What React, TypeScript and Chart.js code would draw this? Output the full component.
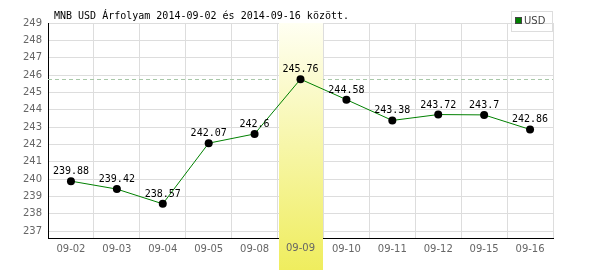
import React, { useEffect, useRef } from "react";
import { Chart, registerables } from "chart.js";

Chart.register(...registerables);

const categories = ["09-02", "09-03", "09-04", "09-05", "09-08", "09-09", "09-10", "09-11", "09-12", "09-15", "09-16"];
const usdValues = [239.88, 239.42, 238.57, 242.07, 242.6, 245.76, 244.58, 243.38, 243.72, 243.7, 242.86];
const yTicks = [237, 238, 239, 240, 241, 242, 243, 244, 245, 246, 247, 248, 249];
const highlightIndex = 5;
const titleText = "MNB USD Árfolyam 2014-09-02 és 2014-09-16 között.";
const legendLabel = "USD";

const MONO = '"DejaVu Sans Mono", monospace';
const SANS = '"DejaVu Sans", sans-serif';

const overlayPlugin = {
  id: "overlay",
  beforeDatasetsDraw(chart: any) {
    const { ctx, chartArea, scales } = chart;
    const x = scales.x;
    const y = scales.y;
    // dashed max line
    const maxV = Math.max(...usdValues);
    const ym = Math.round(y.getPixelForValue(maxV)) + 0.5;
    ctx.save();
    ctx.strokeStyle = "#a8c8a8";
    ctx.lineWidth = 1;
    ctx.setLineDash([4, 3]);
    ctx.beginPath();
    ctx.moveTo(chartArea.left, ym);
    ctx.lineTo(chartArea.right, ym);
    ctx.stroke();
    ctx.restore();
    // highlight band
    const cx = x.getPixelForValue(highlightIndex);
    const half = (x.getPixelForValue(1) - x.getPixelForValue(0)) / 2;
    const x0 = Math.round(cx - half) + 1;
    const x1 = Math.round(cx + half);
    const h = chart.height;
    const g = ctx.createLinearGradient(0, chartArea.top, 0, h);
    g.addColorStop(0, "#fffff2");
    g.addColorStop(1, "#efed5e");
    ctx.save();
    ctx.fillStyle = g;
    ctx.fillRect(x0, chartArea.top, x1 - x0, h - chartArea.top);
    ctx.fillStyle = "#666";
    ctx.font = "10px " + SANS;
    ctx.textAlign = "center";
    ctx.textBaseline = "top";
    ctx.fillText(categories[highlightIndex], cx, chartArea.bottom + 5);
    ctx.restore();
  },
  afterDatasetsDraw(chart: any) {
    const { ctx } = chart;
    const meta = chart.getDatasetMeta(0);
    ctx.save();
    ctx.fillStyle = "#000";
    ctx.font = "10px " + MONO;
    ctx.textAlign = "center";
    ctx.textBaseline = "alphabetic";
    meta.data.forEach((pt: any, i: number) => {
      ctx.fillText(String(usdValues[i]), pt.x, pt.y - 7);
    });
    ctx.restore();
  },
  afterDraw(chart: any) {
    const { ctx } = chart;
    ctx.save();
    // title
    ctx.fillStyle = "#000";
    ctx.font = "10px " + MONO;
    ctx.textAlign = "left";
    ctx.textBaseline = "alphabetic";
    ctx.fillText(titleText, 54, 19);
    // legend
    ctx.strokeStyle = "#dddddd";
    ctx.lineWidth = 1;
    ctx.strokeRect(511.5, 11.5, 41, 20);
    ctx.fillStyle = "#444";
    ctx.fillRect(515, 17, 7, 7);
    ctx.fillStyle = "#008000";
    ctx.fillRect(516, 18, 5, 5);
    ctx.fillStyle = "#444";
    ctx.font = "10px " + SANS;
    ctx.textBaseline = "middle";
    ctx.fillText(legendLabel, 524, 21.5);
    ctx.restore();
  },
};

export default function App() {
  const ref = useRef<HTMLCanvasElement | null>(null);
  useEffect(() => {
    if (!ref.current) return;
    const chart = new Chart(ref.current, {
      type: "line",
      data: {
        labels: categories,
        datasets: [
          {
            label: legendLabel,
            data: usdValues,
            borderColor: "#008000",
            borderWidth: 1,
            pointRadius: 4,
            pointBackgroundColor: "#000",
            pointBorderColor: "#000",
            pointBorderWidth: 0,
            tension: 0,
          },
        ],
      },
      options: {
        responsive: false,
        animation: false,
        layout: { padding: { top: 23, right: 47, left: 0, bottom: 0 } },
        plugins: { legend: { display: false }, title: { display: false }, tooltip: { enabled: false } },
        scales: {
          x: {
            type: "category",
            offset: true,
            grid: { offset: true, color: "#dddddd", drawTicks: false },
            border: { color: "#000", width: 1 },
            ticks: {
              padding: 5,
              color: (c: any) => (c.index === highlightIndex ? "rgba(0,0,0,0)" : "#666"),
              font: { family: SANS, size: 10 },
              maxRotation: 0,
              autoSkip: false,
            },
            afterFit: (s: any) => {
              s.height = 32;
            },
          },
          y: {
            min: 236.6,
            max: 249,
            grid: { color: "#dddddd", drawTicks: false },
            border: { color: "#000", width: 1 },
            afterBuildTicks: (s: any) => {
              s.ticks = yTicks.map((v) => ({ value: v }));
            },
            ticks: {
              padding: 6,
              color: "#666",
              font: { family: SANS, size: 10 },
            },
            afterFit: (s: any) => {
              s.width = 48;
            },
          },
        },
      },
      plugins: [overlayPlugin],
    });
    return () => chart.destroy();
  }, []);
  return (
    <div style={{ position: "absolute", left: 0, top: 0, width: 600, height: 270 }}>
      <canvas ref={ref} width={600} height={270} style={{ width: 600, height: 270, display: "block" }} />
    </div>
  );
}
